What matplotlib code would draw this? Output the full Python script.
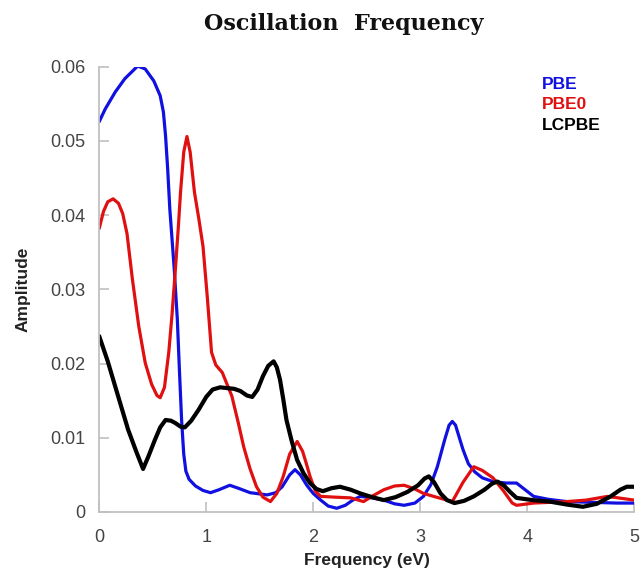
import matplotlib
matplotlib.use("Agg")
import matplotlib.pyplot as plt

# ---- data ----
pbe_x = [0.00, 0.056, 0.15, 0.24, 0.36, 0.43, 0.51, 0.57, 0.60, 0.62, 0.64, 0.66, 0.70, 0.73,
         0.75, 0.77, 0.79, 0.81, 0.84, 0.90, 0.97, 1.04, 1.12, 1.22, 1.30, 1.41, 1.57, 1.65,
         1.71, 1.78, 1.83, 1.88, 1.94, 2.00, 2.07, 2.14, 2.22, 2.30, 2.37, 2.44, 2.55, 2.66,
         2.76, 2.85, 2.95, 3.03, 3.10, 3.16, 3.23, 3.27, 3.30, 3.33, 3.37, 3.40, 3.45, 3.51,
         3.58, 3.68, 3.80, 3.90, 3.98, 4.06, 4.20, 4.37, 4.60, 4.84, 5.00]
pbe_y = [0.0526, 0.0543, 0.0566, 0.0584, 0.0601, 0.0597, 0.0581, 0.0561, 0.0539, 0.0507,
         0.0462, 0.0408, 0.0330, 0.0260, 0.0190, 0.0124, 0.0078, 0.0055, 0.0044, 0.0035,
         0.0029, 0.0026, 0.0030, 0.0036, 0.0032, 0.0026, 0.0023, 0.0026, 0.0034, 0.0050,
         0.0057, 0.0050, 0.0036, 0.0025, 0.0016, 0.0008, 0.0005, 0.0009, 0.0016, 0.0021,
         0.0019, 0.0016, 0.0011, 0.0009, 0.0012, 0.0021, 0.0037, 0.0061, 0.0098, 0.0117,
         0.0122, 0.0117, 0.0098, 0.0084, 0.0065, 0.0054, 0.0046, 0.0041, 0.0039, 0.0039,
         0.0030, 0.0021, 0.0017, 0.0014, 0.0013, 0.0012, 0.0012]

pbe0_x = [0.00, 0.04, 0.08, 0.13, 0.18, 0.22, 0.26, 0.31, 0.37, 0.43, 0.49, 0.54, 0.57, 0.61,
          0.65, 0.68, 0.71, 0.74, 0.76, 0.79, 0.82, 0.85, 0.89, 0.93, 0.97, 1.01, 1.05, 1.09,
          1.15, 1.24, 1.30, 1.35, 1.41, 1.47, 1.53, 1.60, 1.66, 1.72, 1.78, 1.85, 1.90, 1.93,
          1.97, 2.02, 2.07, 2.20, 2.35, 2.47, 2.56, 2.66, 2.76, 2.85, 2.95, 3.03, 3.15, 3.30,
          3.40, 3.50, 3.58, 3.68, 3.78, 3.86, 3.90, 4.06, 4.37, 4.55, 4.75, 5.00]
pbe0_y = [0.0382, 0.0405, 0.0418, 0.0422, 0.0416, 0.0402, 0.0375, 0.0314, 0.0250, 0.0201,
          0.0172, 0.0157, 0.0154, 0.0168, 0.0215, 0.0265, 0.0323, 0.0385, 0.0431, 0.0485,
          0.0506, 0.0485, 0.0431, 0.0396, 0.0358, 0.0290, 0.0215, 0.0198, 0.0188, 0.0156,
          0.0120, 0.0088, 0.0058, 0.0034, 0.0020, 0.0014, 0.0025, 0.0048, 0.0078, 0.0095,
          0.0082, 0.0068, 0.0048, 0.0028, 0.0021, 0.0020, 0.0019, 0.0014, 0.0022, 0.0030,
          0.0035, 0.0036, 0.0031, 0.0025, 0.0020, 0.0014, 0.0040, 0.0061, 0.0056, 0.0046,
          0.0028, 0.0012, 0.0009, 0.0012, 0.0014, 0.0016, 0.0021, 0.0016]

lc_x = [0.00, 0.08, 0.15, 0.27, 0.35, 0.41, 0.46, 0.52, 0.57, 0.62, 0.67, 0.71, 0.76, 0.80,
        0.86, 0.93, 1.00, 1.06, 1.13, 1.19, 1.26, 1.32, 1.38, 1.43, 1.48, 1.53, 1.58, 1.63,
        1.66, 1.69, 1.72, 1.75, 1.80, 1.85, 1.91, 1.97, 2.03, 2.09, 2.17, 2.25, 2.35, 2.44,
        2.55, 2.66, 2.77, 2.88, 2.98, 3.04, 3.08, 3.13, 3.19, 3.25, 3.32, 3.41, 3.50, 3.60,
        3.67, 3.72, 3.78, 3.84, 3.90, 4.05, 4.21, 4.37, 4.52, 4.65, 4.78, 4.87, 4.93, 5.00]
lc_y = [0.0237, 0.0203, 0.0169, 0.0111, 0.0080, 0.0058, 0.0075, 0.0097, 0.0114, 0.0124,
        0.0123, 0.0120, 0.0115, 0.0114, 0.0123, 0.0138, 0.0155, 0.0165, 0.0168, 0.0167,
        0.0166, 0.0163, 0.0157, 0.0155, 0.0165, 0.0183, 0.0197, 0.0203, 0.0195, 0.0178,
        0.0152, 0.0124, 0.0095, 0.0070, 0.0052, 0.0039, 0.0031, 0.0028, 0.0032, 0.0034,
        0.0030, 0.0025, 0.0020, 0.0016, 0.0020, 0.0027, 0.0036, 0.0045, 0.0048, 0.0040,
        0.0025, 0.0016, 0.0012, 0.0015, 0.0021, 0.0030, 0.0038, 0.0041, 0.0036, 0.0027,
        0.0019, 0.0016, 0.0014, 0.0010, 0.0007, 0.0011, 0.0021, 0.0030, 0.0034, 0.0034]

series_names = ["PBE", "PBE0", "LCPBE"]
series_colors = ["#1010e0", "#e01010", "#000000"]
x_ticks = [0, 1, 2, 3, 4, 5]
y_ticks = [0, 0.01, 0.02, 0.03, 0.04, 0.05, 0.06]
y_tick_labels = ["0", "0.01", "0.02", "0.03", "0.04", "0.05", "0.06"]

plt.rcParams['font.family'] = ['Liberation Sans', 'DejaVu Sans']

fig = plt.figure(figsize=(6.4, 5.73), dpi=100)
ax = fig.add_axes([0.155, 0.1065, 0.836, 0.777])

line_kw = dict(solid_joinstyle='round', solid_capstyle='round')
ax.plot(pbe_x, pbe_y, color=series_colors[0], lw=2.3, label=series_names[0], **line_kw)
ax.plot(pbe0_x, pbe0_y, color=series_colors[1], lw=2.3, label=series_names[1], **line_kw)
ax.plot(lc_x, lc_y, color=series_colors[2], lw=3.0, label=series_names[2], **line_kw)

ax.set_xlim(0, 5)
ax.set_ylim(0, 0.06)
ax.set_xticks(x_ticks)
ax.set_xticklabels([str(t) for t in x_ticks])
ax.set_yticks(y_ticks)
ax.set_yticklabels(y_tick_labels)

for s in ['top', 'right']:
    ax.spines[s].set_visible(False)
for s in ['left', 'bottom']:
    ax.spines[s].set_color('#c0c0c0')
    ax.spines[s].set_linewidth(1.3)

ax.tick_params(axis='both', direction='in', length=7, width=1.2, color='#c0c0c0',
               labelsize=13, labelcolor='#444444')
ax.tick_params(axis='x', pad=12)
ax.tick_params(axis='y', pad=10)

ax.set_xlabel("Frequency (eV)", fontsize=12.5, fontweight='bold', color='#222222', labelpad=5)
ax.set_ylabel("Amplitude", fontsize=12.5, fontweight='bold', color='#222222', labelpad=14)

fig.suptitle("Oscillation  Frequency", x=0.537, y=0.978, fontsize=16, fontweight='bold',
             family=['DejaVu Serif'], color='#111111')

leg = ax.legend(loc='upper left', bbox_to_anchor=(0.846, 0.866), bbox_transform=fig.transFigure,
                frameon=False, handlelength=0, handletextpad=0, borderpad=0, borderaxespad=0,
                labelspacing=0.3, prop={'weight': 'bold', 'size': 12.5})
for txt, c in zip(leg.get_texts(), series_colors):
    txt.set_color(c)
for h in leg.legend_handles:
    h.set_visible(False)

fig.savefig("out.png", dpi=100)
